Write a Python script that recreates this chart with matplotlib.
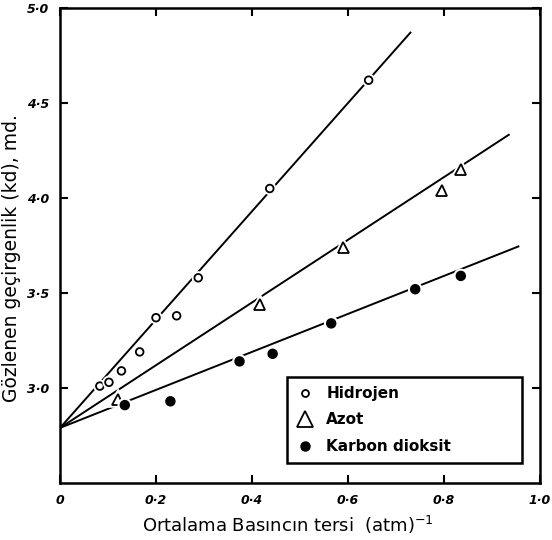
import matplotlib
matplotlib.use("Agg")
import matplotlib.pyplot as plt
import matplotlib.patheffects as pe
from matplotlib.lines import Line2D
import numpy as np

# Data
h_x = [0.083, 0.102, 0.128, 0.166, 0.200, 0.243, 0.288, 0.437, 0.643]
h_y = [3.01, 3.03, 3.09, 3.19, 3.37, 3.38, 3.58, 4.05, 4.62]

n_x = [0.120, 0.416, 0.590, 0.795, 0.835]
n_y = [2.94, 3.44, 3.74, 4.04, 4.15]

c_x = [0.135, 0.230, 0.374, 0.443, 0.565, 0.740, 0.835]
c_y = [2.91, 2.93, 3.14, 3.18, 3.34, 3.52, 3.59]

intercept = 2.79
h_slope, h_xmax = 2.85, 0.73
n_slope, n_xmax = 1.65, 0.935
c_slope, c_xmax = 1.00, 0.955

xticks = [0, 0.2, 0.4, 0.6, 0.8, 1.0]
xticklabels = ["0", "0·2", "0·4", "0·6", "0·8", "1·0"]
yticks = [3.0, 3.5, 4.0, 4.5, 5.0]
yticklabels = ["3·0", "3·5", "4·0", "4·5", "5·0"]

fig = plt.figure(figsize=(5.52, 5.40), dpi=100)
ax = fig.add_axes([60/552, 1-483/540, 480/552, 475/540])

halo = [pe.withStroke(linewidth=4, foreground="white")]

for slope, xmax in [(h_slope, h_xmax), (n_slope, n_xmax), (c_slope, c_xmax)]:
    xs = np.array([0.0, xmax])
    ax.plot(xs, intercept + slope * xs, color="black", lw=1.4, zorder=1)

ax.plot(h_x, h_y, ls="none", marker="o", ms=5.5, mfc="white", mec="black",
        mew=1.3, zorder=3, path_effects=halo)
ax.plot(n_x, n_y, ls="none", marker="^", ms=8, mfc="white", mec="black",
        mew=1.3, zorder=3, path_effects=halo)
ax.plot(c_x, c_y, ls="none", marker="o", ms=6.5, mfc="black", mec="black",
        mew=1.0, zorder=3, path_effects=halo)

ax.set_xlim(0, 1.0)
ax.set_ylim(2.5, 5.0)
ax.set_xticks(xticks)
ax.set_xticklabels(xticklabels, fontsize=9, fontstyle="italic", fontweight="bold")
ax.set_yticks(yticks)
ax.set_yticklabels(yticklabels, fontsize=9, fontstyle="italic", fontweight="bold")
ax.tick_params(direction="in", length=6, width=1.5, top=True, right=True,
               labeltop=False, labelright=False, pad=8)
for s in ax.spines.values():
    s.set_linewidth(1.8)

ax.set_xlabel("Ortalama Basıncın tersi  (atm)$^{-1}$", fontsize=13)
ax.set_ylabel("Gözlenen geçirgenlik (kd), md.", fontsize=13.5)
ax.xaxis.set_label_coords(0.475, -0.065)
ax.yaxis.set_label_coords(-0.082, 0.474)

# Legend
handles = [
    Line2D([], [], ls="none", marker="o", ms=5, mfc="white", mec="black", mew=1.3),
    Line2D([], [], ls="none", marker="^", ms=11, mfc="white", mec="black", mew=1.3),
    Line2D([], [], ls="none", marker="o", ms=6.5, mfc="black", mec="black"),
]
labels = ["Hidrojen", "Azot", "Karbon dioksit"]
leg = ax.legend(handles, labels, loc="lower left",
                bbox_to_anchor=(0.472, 0.042, 0.49, 0.226), mode="expand",
                fancybox=False, edgecolor="black", framealpha=1,
                prop={"size": 11, "weight": "bold"}, handletextpad=0.8,
                labelspacing=0.75, borderpad=0.6, handlelength=1.2,
                borderaxespad=0)
leg.get_frame().set_linewidth(1.8)

fig.savefig("out.png", dpi=100)
